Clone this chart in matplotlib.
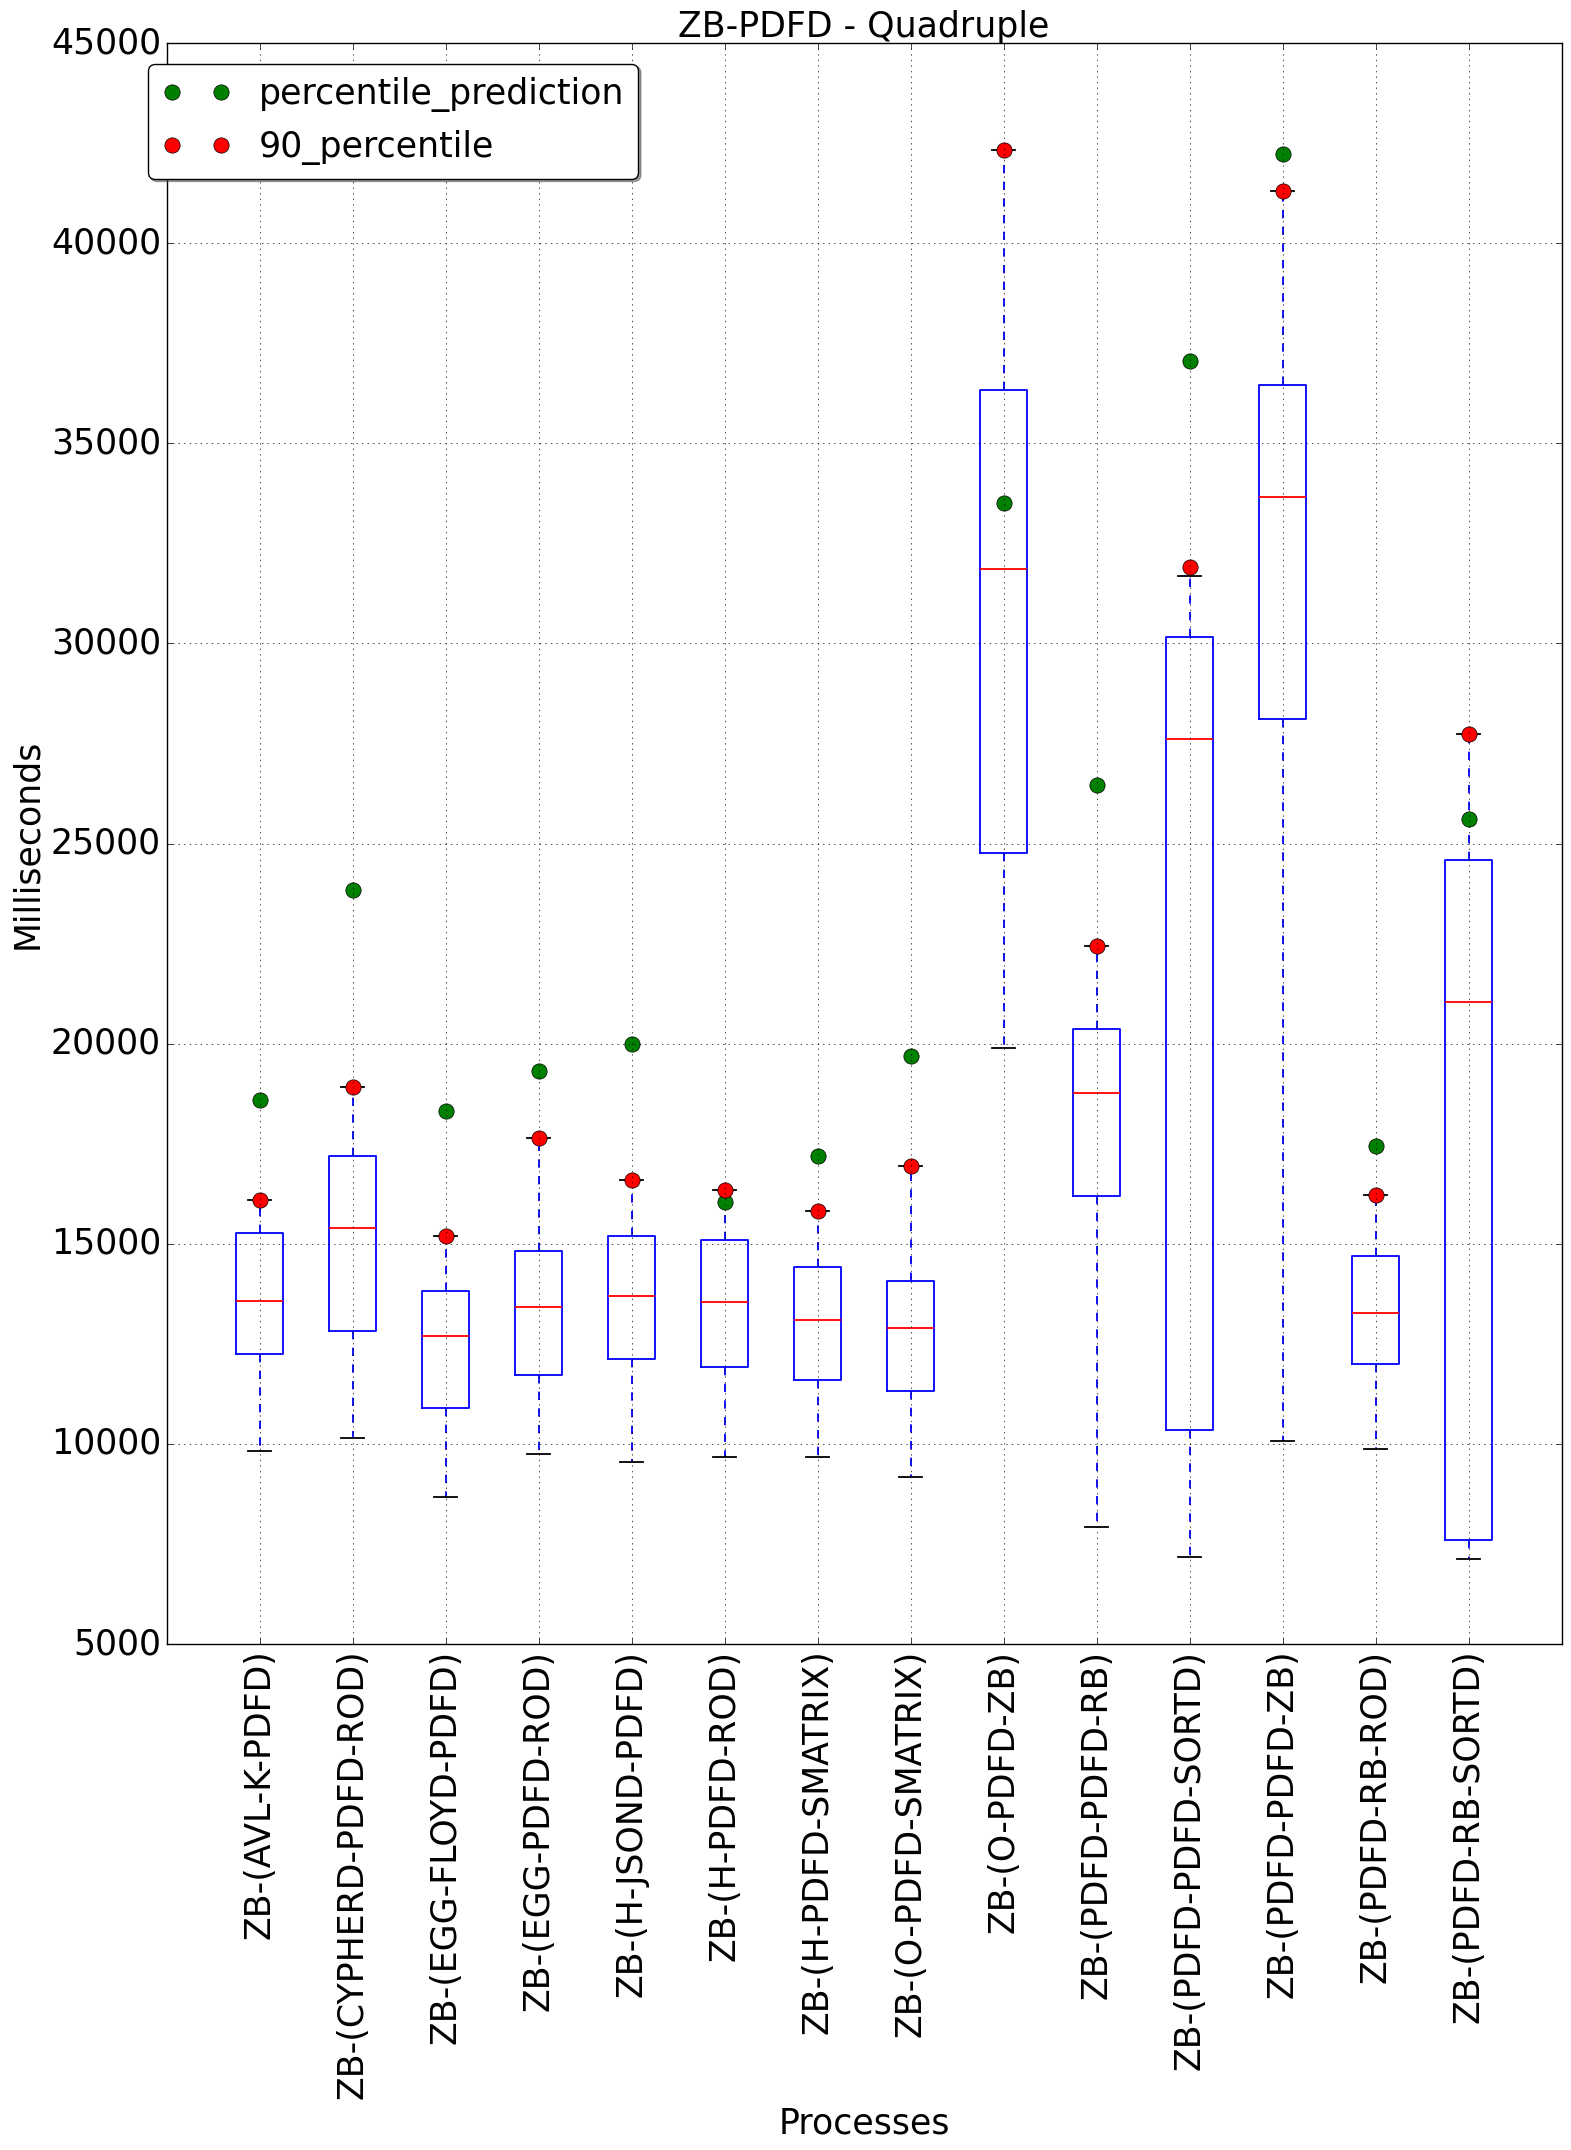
import matplotlib
matplotlib.use("Agg")
import matplotlib.pyplot as plt

processes = ["ZB-(AVL-K-PDFD)", "ZB-(CYPHERD-PDFD-ROD)", "ZB-(EGG-FLOYD-PDFD)",
             "ZB-(EGG-PDFD-ROD)", "ZB-(H-JSOND-PDFD)", "ZB-(H-PDFD-ROD)",
             "ZB-(H-PDFD-SMATRIX)", "ZB-(O-PDFD-SMATRIX)", "ZB-(O-PDFD-ZB)",
             "ZB-(PDFD-PDFD-RB)", "ZB-(PDFD-PDFD-SORTD)", "ZB-(PDFD-PDFD-ZB)",
             "ZB-(PDFD-RB-ROD)", "ZB-(PDFD-RB-SORTD)"]
whisker_low = [9824, 10145, 8674, 9751, 9554, 9668, 9668, 9180, 19904, 7930, 7166, 10064, 9873, 7134]
q1 = [12238, 12819, 10891, 11720, 12124, 11927, 11596, 11326, 24764, 16194, 10350, 28115, 12006, 7611]
median = [13575, 15399, 12694, 13420, 13689, 13544, 13098, 12902, 31852, 18774, 27618, 33653, 13264, 21035]
q3 = [15264, 17192, 13813, 14819, 15192, 15088, 14415, 14062, 36322, 20366, 30153, 36462, 14697, 24580]
whisker_high = [16093, 18912, 15192, 17637, 16591, 16352, 15813, 16953, 42337, 22436, 31673, 41303, 16226, 27739]
percentile_prediction = [18600, 23830, 18321, 19316, 19990, 16041, 17192, 19699, 33512, 26462, 37050, 42235, 17452, 25607]
percentile_90 = [16093, 18912, 15192, 17637, 16591, 16352, 15813, 16953, 42337, 22436, 31916, 41303, 16226, 27739]

plt.style.use("classic")
plt.rcParams["font.family"] = ["DejaVu Sans"]
FS = 25

fig = plt.figure(figsize=(15.71, 21.5), dpi=100, facecolor="white")
ax = fig.add_axes([0.106, 0.2353, 0.888, 0.7447])
ax.set_facecolor("white")

stats = []
for i in range(len(processes)):
    stats.append(dict(whislo=whisker_low[i], q1=q1[i], med=median[i], q3=q3[i],
                      whishi=whisker_high[i], fliers=[], label=processes[i]))
positions = list(range(1, len(processes) + 1))
ax.bxp(stats, positions=positions, widths=0.5, showfliers=False,
       boxprops=dict(color="blue", linewidth=1.3),
       whiskerprops=dict(color="blue", linestyle="--", linewidth=1.3),
       capprops=dict(color="black", linewidth=1.3),
       medianprops=dict(color="red", linewidth=1.3))

ax.plot(positions, percentile_prediction, "o", color="green", markersize=11,
        markeredgecolor="black", markeredgewidth=0.5, label="percentile_prediction")
ax.plot(positions, percentile_90, "o", color="red", markersize=11,
        markeredgecolor="black", markeredgewidth=0.5, label="90_percentile")

ax.set_xlim(0, 15)
ax.set_ylim(5000, 45000)
ax.set_yticks(range(5000, 45001, 5000))
ax.set_xticks(positions)
ax.set_xticklabels(processes, rotation=90, fontsize=FS)
ax.tick_params(axis="y", labelsize=FS)
ax.grid(True)
ax.set_title("ZB-PDFD - Quadruple", fontsize=FS, pad=4)
ax.set_xlabel("Processes", fontsize=FS)
ax.set_ylabel("Milliseconds", fontsize=FS)
ax.legend(loc="upper left", numpoints=2, fontsize=FS, fancybox=True, shadow=True,
          bbox_to_anchor=(-0.026, 0.998))

fig.savefig("out.png", dpi=100, facecolor="white")
